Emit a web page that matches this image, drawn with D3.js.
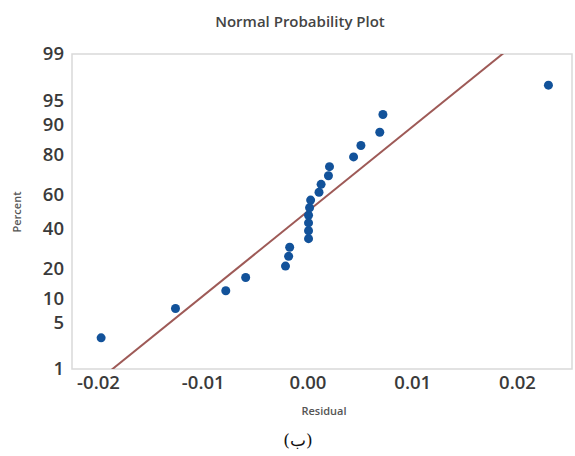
<!DOCTYPE html>
<html>
<head>
<meta charset="utf-8">
<script src="https://cdn.jsdelivr.net/npm/d3@7"></script>
<style>
  html, body { margin: 0; padding: 0; background: #fff; }
  svg { display: block; }
</style>
</head>
<body>
<svg id="chart" width="575" height="456"></svg>
<script>
// Residuals, sorted, with their cumulative percent plotting positions
const residuals = [-0.0197, -0.0126, -0.0078, -0.0059, -0.0021, -0.0018, -0.0017,
  0.0001, 0.0001, 0.0001, 0.0001, 0.0002, 0.0003, 0.0011, 0.0013, 0.0020, 0.0021,
  0.0044, 0.0051, 0.0069, 0.0072, 0.0230];
const percents = [3.1, 7.6, 12.1, 16.5, 21.0, 25.4, 29.9, 34.4, 38.8, 43.3, 47.8,
  52.2, 56.7, 61.2, 65.6, 70.1, 74.6, 79.0, 83.5, 87.9, 92.4, 96.9];

// Fitted normal reference line
const fitMean = 0.0000;
const fitStDev = 0.0080;

// Axis ticks
const percentTicks = [1, 5, 10, 20, 40, 60, 80, 90, 95, 99];
const residualTicks = [-0.02, -0.01, 0.00, 0.01, 0.02];

// Inverse standard normal CDF (Acklam's rational approximation)
function probit(p) {
  const a = [-3.969683028665376e+01, 2.209460984245205e+02, -2.759285104469687e+02,
             1.383577518672690e+02, -3.066479806614716e+01, 2.506628277459239e+00];
  const b = [-5.447609879822406e+01, 1.615858368580409e+02, -1.556989798598866e+02,
             6.680131188771972e+01, -1.328068155288572e+01];
  const c = [-7.784894002430293e-03, -3.223964580411365e-01, -2.400758277161838e+00,
             -2.549732539343734e+00, 4.374664141464968e+00, 2.938163982698783e+00];
  const d = [7.784695709041462e-03, 3.224671290700398e-01, 2.445134137142996e+00,
             3.754408661907416e+00];
  const pl = 0.02425, ph = 1 - pl;
  let q, r;
  if (p < pl) {
    q = Math.sqrt(-2 * Math.log(p));
    return (((((c[0]*q+c[1])*q+c[2])*q+c[3])*q+c[4])*q+c[5]) /
           ((((d[0]*q+d[1])*q+d[2])*q+d[3])*q+1);
  } else if (p <= ph) {
    q = p - 0.5; r = q * q;
    return (((((a[0]*r+a[1])*r+a[2])*r+a[3])*r+a[4])*r+a[5])*q /
           (((((b[0]*r+b[1])*r+b[2])*r+b[3])*r+b[4])*r+1);
  } else {
    q = Math.sqrt(-2 * Math.log(1 - p));
    return -(((((c[0]*q+c[1])*q+c[2])*q+c[3])*q+c[4])*q+c[5]) /
            ((((d[0]*q+d[1])*q+d[2])*q+d[3])*q+1);
  }
}

const svg = d3.select("#chart");
const plot = { left: 72, right: 572, top: 54, bottom: 369 };

const x = d3.scaleLinear().domain([-0.02248, 0.02525]).range([plot.left, plot.right]);
const zMin = probit(0.01), zMax = probit(0.99);
const yz = d3.scaleLinear().domain([zMin, zMax]).range([plot.bottom, plot.top]);
const y = p => yz(probit(p / 100));

const font = "'Open Sans', 'Noto Sans', sans-serif";

// Title
svg.append("text")
  .attr("x", 300).attr("y", 27)
  .attr("text-anchor", "middle")
  .attr("font-family", font).attr("font-size", 15).attr("font-weight", 600)
  .attr("fill", "#444")
  .text("Normal Probability Plot");

// Plot frame
svg.append("rect")
  .attr("x", plot.left).attr("y", plot.top)
  .attr("width", plot.right - plot.left).attr("height", plot.bottom - plot.top)
  .attr("fill", "none").attr("stroke", "#d9d9d9").attr("stroke-width", 1.5);

svg.append("clipPath").attr("id", "plot-clip")
  .append("rect")
  .attr("x", plot.left).attr("y", plot.top)
  .attr("width", plot.right - plot.left).attr("height", plot.bottom - plot.top);

// Y axis (probability scale)
const yAxis = d3.axisLeft(yz)
  .tickValues(percentTicks.map(p => probit(p / 100)))
  .tickFormat((d, i) => percentTicks[i])
  .tickSize(0).tickPadding(8);
const gy = svg.append("g").attr("transform", `translate(${plot.left},0)`).call(yAxis);
gy.select(".domain").remove();
gy.selectAll("text")
  .attr("font-family", font).attr("font-size", 18.5).attr("font-weight", 600)
  .attr("fill", "#3a3a3a");

// X axis, with a plain hyphen for negative values
const xAxis = d3.axisBottom(x)
  .tickValues(residualTicks)
  .tickFormat(d => d.toFixed(2))
  .tickSize(0).tickPadding(7);
const gx = svg.append("g").attr("transform", `translate(0,${plot.bottom})`).call(xAxis);
gx.select(".domain").remove();
gx.selectAll("text")
  .attr("font-family", font).attr("font-size", 18.5).attr("font-weight", 600)
  .attr("fill", "#3a3a3a");

// Axis titles
svg.append("text")
  .attr("transform", "translate(21,212) rotate(-90)")
  .attr("text-anchor", "middle")
  .attr("font-family", font).attr("font-size", 11).attr("font-weight", 600)
  .attr("fill", "#555")
  .text("Percent");

svg.append("text")
  .attr("x", 324).attr("y", 415)
  .attr("text-anchor", "middle")
  .attr("font-family", font).attr("font-size", 11).attr("font-weight", 600)
  .attr("fill", "#555")
  .text("Residual");

// Fitted line
const fitLine = d3.line()
  .x(z => x(fitMean + fitStDev * z))
  .y(z => yz(z));
svg.append("path")
  .datum([zMin - 0.2, zMax + 0.2])
  .attr("clip-path", "url(#plot-clip)")
  .attr("d", fitLine)
  .attr("fill", "none")
  .attr("stroke", "#9e5a57")
  .attr("stroke-width", 2);

// Data points
svg.append("g")
  .selectAll("circle")
  .data(residuals.map((r, i) => ({ r, p: percents[i] })))
  .join("circle")
  .attr("cx", d => x(d.r))
  .attr("cy", d => y(d.p))
  .attr("r", 4.5)
  .attr("fill", "#12529a");

// Panel label
svg.append("text")
  .attr("x", 298).attr("y", 446)
  .attr("text-anchor", "middle")
  .attr("font-family", "'DejaVu Serif', 'Liberation Serif', serif")
  .attr("font-size", 17)
  .attr("fill", "#111")
  .text("(ب)");
</script>
</body>
</html>
